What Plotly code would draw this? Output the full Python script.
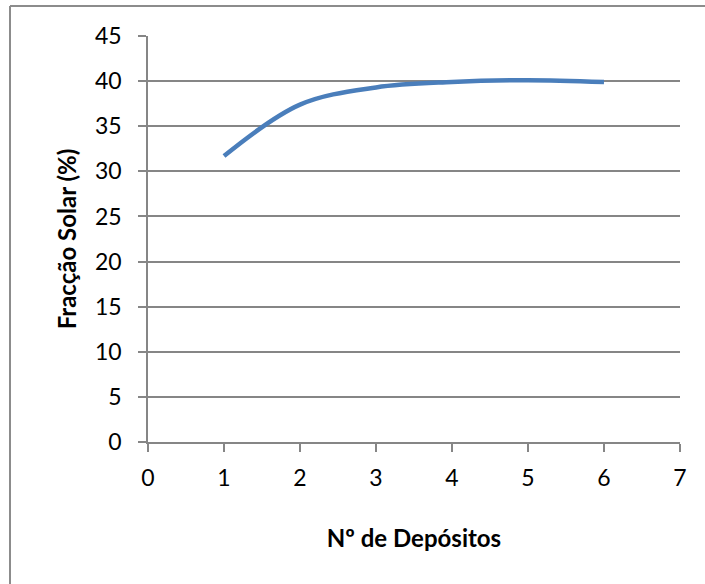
import plotly.graph_objects as go

depositos = [1, 2, 3, 4, 5, 6]
fraccao_solar = [31.7, 37.4, 39.3, 39.9, 40.1, 39.9]
x_ticks = [0, 1, 2, 3, 4, 5, 6, 7]
y_ticks = [0, 5, 10, 15, 20, 25, 30, 35, 40, 45]

W, H = 705, 584
L, R, T, B = 148, 25, 36, 142
pw = W - L - R
ph = H - T - B

fig = go.Figure()
fig.add_trace(go.Scatter(
    x=depositos, y=fraccao_solar, mode="lines",
    line=dict(color="#4A7EBB", width=4.5, shape="spline", smoothing=1.0),
    showlegend=False, hoverinfo="skip",
))

font_family = "Lato, 'Open Sans', sans-serif"
grid_col = "#868686"

fig.update_layout(
    width=W, height=H,
    margin=dict(l=L, r=R, t=T, b=B),
    paper_bgcolor="white", plot_bgcolor="white",
    font=dict(family=font_family, color="black"),
    xaxis=dict(
        range=[0, 7], tickvals=x_ticks, ticktext=[str(v) for v in x_ticks],
        showgrid=False, zeroline=False,
        showline=True, linecolor=grid_col, linewidth=1.5,
        ticks="outside", ticklen=8, tickcolor=grid_col, tickwidth=1.5,
        tickfont=dict(size=23, family=font_family, color="black"),
        ticklabelstandoff=7,
        title=dict(text="<b>Nº de Depósitos</b>", font=dict(size=24, family=font_family, color="black"), standoff=40),
        fixedrange=True,
    ),
    yaxis=dict(
        range=[0, 45], tickvals=y_ticks, ticktext=[str(v) for v in y_ticks],
        showgrid=True, gridcolor=grid_col, gridwidth=1.5, zeroline=False,
        showline=True, linecolor=grid_col, linewidth=1.5,
        ticks="outside", ticklen=8, tickcolor=grid_col, tickwidth=1.5,
        tickfont=dict(size=23, family=font_family, color="black"),
        ticklabelstandoff=12,
        title=dict(text="<b>Fracção Solar (%)</b>", font=dict(size=24, family=font_family, color="black"), standoff=12),
        fixedrange=True,
    ),
)

# outer chart border (left and top edges visible in the cropped chart)
bx = (10 - L) / pw
by = (H - 6 - B) / ph
fig.add_shape(type="line", xref="paper", yref="paper", x0=bx, x1=bx, y0=by, y1=(0 - B) / ph - 0.1,
              line=dict(color="#8c8c8c", width=2))
fig.add_shape(type="line", xref="paper", yref="paper", x0=bx, x1=(W - L) / pw + 0.1, y0=by, y1=by,
              line=dict(color="#8c8c8c", width=2))

fig.write_html("out.html", config={"displayModeBar": False},
               post_script="document.body.style.margin='0';")
